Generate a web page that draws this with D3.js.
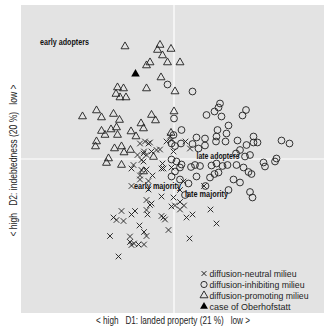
<!DOCTYPE html>
<html><head><meta charset="utf-8">
<script src="https://cdn.jsdelivr.net/npm/d3@7"></script>
<style>body{margin:0;background:#fff}svg{display:block}</style>
</head><body><svg id="chart" width="324" height="332"></svg>
<script>
// MCA map: municipalities on D1 (landed property) and D2 (indebtedness)
const neutral = [
  [-0.68,0.31],[-0.58,0.35],[-0.48,0.33],[-0.08,0.45],[-0.05,0.38],[-0.15,0.35],[0.23,0.35],[0.32,0.21],
  [-0.01,0.15],[-0.61,0.11],[-0.55,0.08],[-0.35,0.18],[-0.73,0.08],[-0.65,-0.02],[-0.23,-0.09],[-0.81,-0.12],
  [-0.85,-0.19],[-0.68,-0.33],[-0.55,-0.21],[-0.43,-0.33],[-0.25,-0.19],[-0.05,-0.17],[-0.51,-0.44],[-0.85,-0.54],
  [-0.51,-0.61],[0.12,-0.62],[0.60,-0.54],[-0.25,-0.75],[-0.01,-0.77],[-0.55,-0.82],[-0.45,-0.89],[-0.05,-0.95],
  [0.02,-0.93],[0.12,-0.86],[0.20,-0.93],[0.12,-1.01],[0.37,-1.11],[0.25,-1.17],[0.73,-1.01],[0.85,-1.29],
  [-1.05,-1.04],[-1.21,-1.17],[-1.15,-1.22],[-1.01,-1.24],[-0.85,-1.11],[-0.78,-1.04],[-0.55,-1.02],[-0.53,-1.11],
  [-0.25,-1.14],[-0.21,-1.17],[-0.18,-1.21],[-0.11,-1.42],[-0.69,-1.33],[-0.60,-1.46],[-0.55,-1.54],[-1.28,-1.54],
  [-0.88,-1.55],[-0.88,-1.66],[-0.80,-1.69],[-0.60,-1.71],[-0.71,-1.71],[0.31,-1.59],[-1.11,-1.95],[-0.51,0.31],
  [-0.60,0.15],[-0.45,0.15],[-0.28,0.19],[-0.61,-0.05],[-0.65,-0.22],[-0.21,-0.19],[-0.68,-0.41],[-0.48,-0.92],
  [-0.85,-1.72],[0.19,-0.45]
];
const inhibiting = [
  [-0.13,1.49],[0.37,1.35],[0.92,1.11],[0.89,1.03],[0.81,0.95],[0.65,0.88],[1.44,0.98],[1.37,0.87],
  [0.95,0.85],[0.00,0.81],[1.09,0.67],[0.15,0.58],[0.87,0.58],[1.05,0.51],[0.85,0.45],[0.45,0.43],
  [1.59,0.45],[1.27,0.37],[0.84,0.35],[1.59,0.33],[1.67,0.33],[2.15,0.37],[2.31,0.31],[0.37,0.30],
  [0.62,0.27],[0.49,0.21],[-0.05,0.31],[0.02,0.26],[0.14,0.31],[1.03,0.35],[1.45,0.28],[1.32,0.18],
  [1.24,0.11],[1.52,0.08],[1.42,0.05],[2.05,0.01],[2.02,-0.05],[1.79,-0.07],[1.82,-0.15],[-0.05,-0.01],
  [0.05,-0.05],[0.15,-0.11],[0.42,-0.12],[0.52,-0.14],[0.75,-0.13],[0.85,-0.09],[0.97,-0.14],[1.07,-0.12],
  [1.25,-0.12],[1.39,-0.17],[0.12,-0.17],[0.34,-0.16],[1.49,-0.26],[1.55,-0.30],[0.89,-0.27],[0.81,-0.30],
  [0.72,-0.37],[-0.05,-0.35],[0.12,-0.41],[0.29,-0.49],[1.19,-0.41],[1.32,-0.47],[1.09,-0.62],[1.52,-0.66],
  [1.57,-0.77],[0.22,-0.72],[0.63,-0.54],[0.02,-0.25],[0.45,-0.35],[-0.01,0.48],[0.62,0.41]
];
const promoting = [
  [-0.98,2.25],[-0.28,2.28],[-0.33,2.18],[-0.06,2.20],[-0.23,2.07],[-0.48,1.93],[-0.55,1.87],[-0.13,1.93],
  [0.12,1.93],[-0.26,1.63],[-1.13,1.43],[-1.01,1.41],[-0.55,1.41],[0.02,1.35],[-1.16,1.30],[-1.08,1.23],
  [-0.96,1.23],[-1.83,0.85],[-1.55,0.97],[-1.45,0.83],[-1.21,0.90],[-1.09,0.78],[-0.45,0.88],[-0.37,0.77],
  [0.00,0.95],[-0.66,0.71],[-0.61,0.61],[-1.45,0.56],[-1.26,0.59],[-1.15,0.63],[-1.38,0.48],[-1.13,0.48],
  [-0.86,0.55],[-0.76,0.45],[-1.55,0.35],[-1.57,0.25],[-1.19,0.21],[-1.05,0.25],[-1.00,0.13],[-0.87,0.18],
  [-1.31,0.01],[-1.35,-0.08],[-1.05,-0.12],[-0.41,0.04],[-0.61,-0.25],[-0.06,0.52]
];
const oberhofstatt = [[-0.77,1.70]];

// adopter-type categories, labelled at their positions
const groupNames = ["early adopters", "late adopters", "early majority", "late majority"];
const groupPos = [[-2.68,2.34],[0.45,0.07],[-0.80,-0.54],[0.22,-0.70]];
const legendLabels = ["diffusion-neutral milieu","diffusion-inhibiting milieu","diffusion-promoting milieu","case of Oberhofstatt"];
const xTitle = "< high\u00a0\u00a0\u00a0D1: landed property (21 %)\u00a0\u00a0\u00a0low >";
const yTitle = "< high\u00a0\u00a0\u00a0D2: indebtedness (20 %)\u00a0\u00a0\u00a0low >";
const xDomain = [-3.06, 3.00];
const yDomain = [-3.08, 3.08];

const svg = d3.select("#chart");
const panel = {left: 21, right: 324, top: 5, bottom: 313};
const x = d3.scaleLinear().domain(xDomain).range([panel.left, panel.right]);
const y = d3.scaleLinear().domain(yDomain).range([panel.bottom, panel.top]);
const font = "'Liberation Sans', Arial, Helvetica, sans-serif";
const ink = "#1e1e1e";

svg.append("rect").attr("x", panel.left).attr("y", panel.top)
  .attr("width", panel.right - panel.left).attr("height", panel.bottom - panel.top)
  .attr("fill", "#e3e3e3");

// origin lines
svg.append("line").attr("x1", x(0)).attr("x2", x(0)).attr("y1", panel.top).attr("y2", panel.bottom)
  .attr("stroke", "#fff").attr("stroke-width", 1.2);
svg.append("line").attr("x1", panel.left).attr("x2", panel.right).attr("y1", y(0)).attr("y2", y(0))
  .attr("stroke", "#fff").attr("stroke-width", 1.2);

const crossPath = "M-2.8,-2.8L2.8,2.8M-2.8,2.8L2.8,-2.8";
const triPath = d3.symbol().type(d3.symbolTriangle).size(27)();
const marks = svg.append("g").attr("fill", "none").attr("stroke", ink).attr("stroke-width", 0.9);

marks.selectAll(".circ").data(inhibiting).join("circle").attr("class", "circ")
  .attr("cx", d => x(d[0])).attr("cy", d => y(d[1])).attr("r", 3.4);
marks.selectAll(".tri").data(promoting).join("path").attr("class", "tri")
  .attr("d", triPath).attr("transform", d => `translate(${x(d[0])},${y(d[1])})`);
marks.selectAll(".cross").data(neutral).join("path").attr("class", "cross")
  .attr("d", crossPath).attr("transform", d => `translate(${x(d[0])},${y(d[1])})`);
svg.selectAll(".case").data(oberhofstatt).join("path").attr("class", "case")
  .attr("d", d3.symbol().type(d3.symbolTriangle).size(32)())
  .attr("fill", "#000").attr("transform", d => `translate(${x(d[0])},${y(d[1])})`);

// group labels
const labelWidths = [49, 43, 47, 43];
svg.selectAll(".grp").data(groupNames).join("text").attr("class", "grp")
  .attr("x", (d, i) => x(groupPos[i][0])).attr("y", (d, i) => y(groupPos[i][1]) + 3)
  .attr("font-family", font).attr("font-weight", "bold").attr("font-size", 8.4)
  .attr("fill", "#111").attr("textLength", (d, i) => labelWidths[i]).attr("lengthAdjust", "spacingAndGlyphs")
  .text(d => d);

// legend
const legend = svg.append("g").attr("transform", "translate(204,273.5)");
const legWidths = [87, 95, 99, 81];
const rowH = 11;
legend.selectAll("text").data(legendLabels).join("text")
  .attr("x", 5.5).attr("y", (d, i) => i * rowH + 3.4)
  .attr("font-family", font).attr("font-size", 9.6).attr("fill", ink)
  .attr("textLength", (d, i) => legWidths[i]).attr("lengthAdjust", "spacingAndGlyphs")
  .text(d => d);
legend.append("path").attr("d", "M-2.4,-2.4L2.4,2.4M-2.4,2.4L2.4,-2.4")
  .attr("stroke", ink).attr("stroke-width", 1).attr("fill", "none");
legend.append("circle").attr("cy", rowH).attr("r", 3.1).attr("stroke", ink).attr("stroke-width", 0.9).attr("fill", "none");
legend.append("path").attr("d", triPath).attr("transform", `translate(0,${rowH * 2})`)
  .attr("stroke", ink).attr("stroke-width", 0.9).attr("fill", "none");
legend.append("path").attr("d", triPath).attr("transform", `translate(0,${rowH * 3})`)
  .attr("fill", "#000");

// axis titles
svg.append("text").attr("x", (panel.left + panel.right) / 2 + 0.5).attr("y", 324)
  .attr("text-anchor", "middle").attr("font-family", font).attr("font-size", 10.5).attr("fill", ink)
  .attr("textLength", 154).attr("lengthAdjust", "spacingAndGlyphs").text(xTitle);
svg.append("text").attr("transform", `translate(16.5,${(panel.top + panel.bottom) / 2 + 1.5}) rotate(-90)`)
  .attr("text-anchor", "middle").attr("font-family", font).attr("font-size", 10.5).attr("fill", ink)
  .attr("textLength", 152).attr("lengthAdjust", "spacingAndGlyphs").text(yTitle);
</script></body></html>
